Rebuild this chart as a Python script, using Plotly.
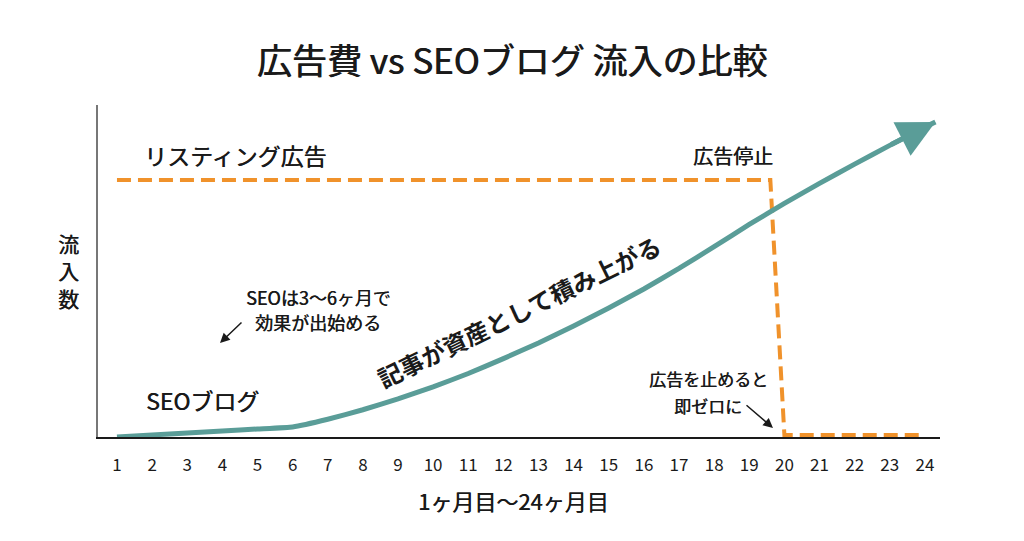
import plotly.graph_objects as go

# ---- data ----
MONTHS = list(range(1, 25))
TICK_LABELS = [str(m) for m in MONTHS]

SEO_MONTHS = MONTHS
SEO_VALUES = [0, 0.8, 1.6, 2.3, 3.1, 3.9, 6.9, 10.6, 14.8, 19.5, 24.7, 30.5,
              36.6, 43.2, 50.2, 57.6, 65.6, 74.1, 82.7, 90.9, 98.7, 106.2, 113.5, 120.6]
SEO_ARROW_TIP = (24.3, 122.6)

AD_MONTHS = [1, 19.6, 20, 24]
AD_VALUES = [100, 100, 0.8, 0.8]

TEAL = "#5A9D98"
ORANGE = "#F0922B"
INK = "#1a1a1a"
FONT = "Noto Sans CJK JP"
MEDIUM = "0.45px 0px 0px #1a1a1a"  # slight thickening to mimic a medium weight

W, H = 1024, 541
L, R, T, B = 98, 940, 105, 437  # plot area in pixels


def px(x):
    return (x - L) / (R - L)


def py(y):
    return (B - y) / (B - T)


fig = go.Figure()

fig.add_trace(go.Scatter(
    x=AD_MONTHS, y=AD_VALUES, mode="lines",
    line=dict(color=ORANGE, width=4, dash="14px,7px"),
    hoverinfo="skip", showlegend=False,
))

fig.add_trace(go.Scatter(
    x=SEO_MONTHS + [SEO_ARROW_TIP[0]], y=SEO_VALUES + [SEO_ARROW_TIP[1]],
    mode="lines",
    line=dict(color=TEAL, width=5, shape="spline", smoothing=0.3),
    hoverinfo="skip", showlegend=False,
))

annotations = []

# teal arrow head
annotations.append(dict(
    x=SEO_ARROW_TIP[0], y=SEO_ARROW_TIP[1], xref="x", yref="y",
    ax=SEO_MONTHS[-2], ay=SEO_VALUES[-2], axref="x", ayref="y",
    text="", showarrow=True, arrowhead=2, arrowsize=1.5, arrowwidth=5,
    arrowcolor=TEAL,
))


def label(text, x, y, size, xanchor="center", angle=0, weight=400, shadow=MEDIUM):
    annotations.append(dict(
        text=text, x=px(x), y=py(y), xref="paper", yref="paper",
        xanchor=xanchor, yanchor="middle", showarrow=False, textangle=angle,
        borderpad=0,
        font=dict(family=FONT, size=size, color=INK, weight=weight, shadow=shadow),
    ))


label("リスティング広告", 143, 155, 23, xanchor="left")
label("広告停止", 733, 155, 20)
label("SEOブログ", 145, 400, 23, xanchor="left")
label("SEOは3〜6ヶ月で", 318, 297, 18)
label("効果が出始める", 318, 322, 18)
label("広告を止めると", 708, 378, 17)
label("即ゼロに", 708, 405, 17)
label("記事が資産として積み上がる", 518, 311, 24, angle=-26, weight=700, shadow="none")
label("流<br>入<br>数", 68, 270, 21)
label("1ヶ月目〜24ヶ月目", 513, 500, 22)

# small black arrows
annotations.append(dict(
    x=px(220), y=py(343), xref="paper", yref="paper", ax=23, ay=-22,
    text="", showarrow=True, arrowhead=2, arrowsize=1.3, arrowwidth=1.5,
    arrowcolor=INK,
))
annotations.append(dict(
    x=px(773), y=py(428), xref="paper", yref="paper", ax=-28, ay=-24,
    text="", showarrow=True, arrowhead=2, arrowsize=1.3, arrowwidth=1.5,
    arrowcolor=INK,
))

fig.update_layout(
    width=W, height=H,
    margin=dict(l=L, r=W - R, t=T, b=H - B),
    paper_bgcolor="white", plot_bgcolor="white",
    title=dict(
        text="広告費 vs SEOブログ 流入の比較",
        x=0.5, xref="container", xanchor="center",
        y=1 - 62 / H, yref="container", yanchor="middle",
        font=dict(family=FONT, size=35, color=INK, weight=400,
                  shadow="0.7px 0px 0px #1a1a1a"),
    ),
    xaxis=dict(
        range=[0.46, 24.43], tickmode="array", tickvals=MONTHS, ticktext=TICK_LABELS,
        showgrid=False, zeroline=False, showline=True, linecolor=INK, linewidth=1.5,
        ticks="", ticklabelstandoff=12,
        tickfont=dict(family=FONT, size=17, color=INK),
    ),
    yaxis=dict(
        range=[0, 129.2], showgrid=False, zeroline=False, showticklabels=False,
        showline=True, linecolor="#777777", linewidth=2, ticks="",
    ),
    annotations=annotations,
)

fig.write_html("out.html")
